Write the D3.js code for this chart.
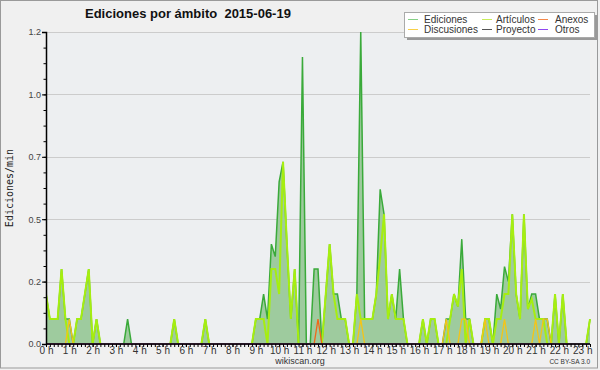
<!DOCTYPE html>
<html>
<head>
<meta charset="utf-8">
<script src="https://cdn.jsdelivr.net/npm/d3@7"></script>
<style>
  body { margin: 0; background: #f0f0f0; }
  text { font-family: "Liberation Sans", Arial, sans-serif; }
</style>
</head>
<body>
<div id="chart"></div>
<script>
// values every 10 minutes (edits per minute)
var stepMinutes = 10;

var ediciones = [
  0.2, 0.1, 0.1, 0.1, 0.3, 0.1,
  0.1, 0, 0.1, 0.1, 0.2, 0.3,
  0, 0.1, 0, 0, 0, 0,
  0, 0, 0, 0.1, 0, 0,
  0, 0, 0, 0, 0, 0,
  0, 0, 0, 0.1, 0, 0,
  0, 0, 0, 0, 0, 0.1,
  0, 0, 0, 0, 0, 0,
  0, 0, 0, 0, 0, 0,
  0.1, 0.1, 0.2, 0.1, 0.4, 0.35,
  0.65, 0.73, 0.4, 0.1, 0.3, 0,
  1.15, 0, 0, 0.3, 0.3, 0,
  0.2, 0.4, 0.2, 0.2, 0.1, 0.1,
  0, 0, 0.2, 1.25, 0.1, 0.1,
  0.1, 0.2, 0.62, 0.52, 0.1, 0.2,
  0.1, 0.3, 0.1, 0, 0, 0,
  0, 0.1, 0, 0.1, 0.1, 0,
  0, 0.1, 0.1, 0.2, 0.15, 0.42,
  0.1, 0.1, 0, 0, 0, 0.1,
  0.1, 0, 0.2, 0.14, 0.31, 0.25,
  0.52, 0.2, 0.1, 0.52, 0.14, 0.2,
  0.2, 0.1, 0.1, 0.1, 0, 0.2,
  0, 0.2, 0, 0, 0, 0,
  0, 0, 0.1
];

var articulos = [
  0.2, 0.1, 0.1, 0.1, 0.3, 0.1,
  0, 0, 0.1, 0.1, 0.2, 0.3,
  0, 0.1, 0, 0, 0, 0,
  0, 0, 0, 0, 0, 0,
  0, 0, 0, 0, 0, 0,
  0, 0, 0, 0.1, 0, 0,
  0, 0, 0, 0, 0, 0.1,
  0, 0, 0, 0, 0, 0,
  0, 0, 0, 0, 0, 0,
  0.1, 0.1, 0.1, 0, 0.3, 0.3,
  0.2, 0.73, 0.4, 0.1, 0.3, 0,
  0, 0, 0, 0, 0, 0,
  0.2, 0.4, 0.2, 0.1, 0.1, 0.1,
  0, 0, 0.2, 0.1, 0.1, 0.1,
  0.1, 0.2, 0.35, 0.52, 0.1, 0.2,
  0.1, 0.1, 0.1, 0, 0, 0,
  0, 0.1, 0, 0.1, 0.1, 0,
  0, 0, 0.1, 0.2, 0.15, 0.3,
  0, 0.1, 0, 0, 0, 0.1,
  0.1, 0, 0.1, 0.1, 0.2, 0.2,
  0.52, 0.2, 0.1, 0.52, 0.14, 0.18,
  0.1, 0.1, 0.1, 0, 0, 0.2,
  0, 0.2, 0, 0, 0, 0,
  0, 0, 0.1
];

var discusiones = [
  0, 0, 0, 0, 0, 0,
  0.1, 0, 0, 0, 0, 0,
  0, 0, 0, 0, 0, 0,
  0, 0, 0, 0, 0, 0,
  0, 0, 0, 0, 0, 0,
  0, 0, 0, 0, 0, 0,
  0, 0, 0, 0, 0, 0,
  0, 0, 0, 0, 0, 0,
  0, 0, 0, 0, 0, 0,
  0, 0, 0, 0, 0, 0,
  0, 0, 0, 0, 0, 0,
  0, 0, 0, 0, 0, 0,
  0, 0, 0, 0, 0, 0,
  0, 0, 0, 0.1, 0, 0,
  0, 0, 0, 0, 0, 0,
  0, 0, 0, 0, 0, 0,
  0, 0, 0, 0, 0, 0,
  0, 0.1, 0, 0, 0, 0.1,
  0.1, 0, 0, 0, 0, 0.1,
  0, 0, 0, 0, 0.1, 0,
  0, 0, 0, 0, 0, 0,
  0.1, 0, 0.1, 0.1, 0, 0,
  0, 0, 0, 0, 0, 0,
  0, 0, 0
];

var anexos = [
  0, 0, 0, 0, 0, 0,   0, 0, 0, 0, 0, 0,   0, 0, 0, 0, 0, 0,
  0, 0, 0, 0, 0, 0,   0, 0, 0, 0, 0, 0,   0, 0, 0, 0, 0, 0,
  0, 0, 0, 0, 0, 0,   0, 0, 0, 0, 0, 0,   0, 0, 0, 0, 0, 0,
  0, 0, 0, 0, 0, 0,   0, 0, 0, 0, 0, 0,   0, 0, 0, 0, 0.1, 0,
  0, 0, 0, 0, 0, 0,   0, 0, 0, 0, 0, 0,   0, 0, 0, 0, 0, 0,
  0, 0, 0, 0, 0, 0,   0, 0, 0, 0, 0, 0,   0, 0, 0, 0, 0, 0,
  0, 0, 0, 0, 0, 0,   0, 0, 0, 0, 0, 0,   0, 0, 0, 0, 0, 0,
  0, 0, 0, 0, 0, 0,   0, 0, 0
];

var proyecto = ediciones.map(function() { return 0; });
var otros = ediciones.map(function() { return 0; });

var hours = d3.range(0, 24);
var yTicks = [0, 0.25, 0.5, 0.75, 1.0, 1.25];
var yTickLabels = ["0.0", "0.2", "0.5", "0.7", "1.0", "1.2"];

var legendNames = ["Ediciones", "Artículos", "Anexos", "Discusiones", "Proyecto", "Otros"];
var legendColors = ["#86d086", "#c8ec5a", "#f4884a", "#f8d048", "#555555", "#9048f0"];

var W = 600, H = 370;
var svg = d3.select("#chart").append("svg")
  .attr("width", W).attr("height", H);

svg.append("rect").attr("x", 0.5).attr("y", 0.5)
  .attr("width", 597).attr("height", 367.5)
  .attr("fill", "#f0f0f0").attr("stroke", "#9a9a9a");

var x = d3.scaleLinear().domain([0, 140 * stepMinutes / 60]).range([46, 590]);
var y = d3.scaleLinear().domain([0, 1.25]).range([344, 32]);

// plot background
svg.append("rect")
  .attr("x", x.range()[0]).attr("y", y.range()[1])
  .attr("width", x.range()[1] - x.range()[0])
  .attr("height", y.range()[0] - y.range()[1])
  .attr("fill", "#edeff1");

// grid
svg.selectAll(".grid").data(yTicks.slice(1)).enter()
  .append("line")
  .attr("x1", x.range()[0]).attr("x2", x.range()[1])
  .attr("y1", function(d) { return Math.round(y(d)) + 0.5; })
  .attr("y2", function(d) { return Math.round(y(d)) + 0.5; })
  .attr("stroke", "#cccccc");

svg.append("clipPath").attr("id", "clip")
  .append("rect")
  .attr("x", 46).attr("y", 31).attr("width", 545).attr("height", 314);

var plot = svg.append("g").attr("clip-path", "url(#clip)");

var tx = function(d, i) { return x(i * stepMinutes / 60); };

var area = d3.area().x(tx).y0(y(0)).y1(function(d) { return y(d); });
var line = d3.line().x(tx).y(function(d) { return y(d); });

plot.append("path").datum(ediciones)
  .attr("d", area)
  .attr("fill", "#9ecb9e");

plot.append("path").datum(ediciones)
  .attr("d", line).attr("fill", "none")
  .attr("stroke", "#3aaa3a").attr("stroke-width", 1.5);

plot.append("path").datum(articulos)
  .attr("d", line).attr("fill", "none")
  .attr("stroke", "#a6ee10").attr("stroke-width", 2);

plot.append("path").datum(discusiones)
  .attr("d", line).attr("fill", "none")
  .attr("stroke", "#f4c418").attr("stroke-width", 1.3);

plot.append("path").datum(anexos)
  .attr("d", line).attr("fill", "none")
  .attr("stroke", "#f06818").attr("stroke-width", 1.3);

plot.append("path").datum(proyecto)
  .attr("d", line).attr("fill", "none")
  .attr("stroke", "#555").attr("stroke-width", 1);

plot.append("path").datum(otros)
  .attr("d", line).attr("fill", "none")
  .attr("stroke", "#9048f0").attr("stroke-width", 1);

// y axis
var yMinor = d3.range(0, 1.25 + 0.001, 0.0625);
svg.append("g").attr("transform", "translate(46,0)")
  .call(d3.axisLeft(y).tickValues(yMinor).tickSize(2.5).tickFormat(""))
  .call(function(g) { g.select(".domain").remove(); });

var yAxis = svg.append("g").attr("transform", "translate(46,0)")
  .call(d3.axisLeft(y).tickValues(yTicks).tickSize(4).tickPadding(1)
    .tickFormat(function(d, i) { return yTickLabels[i]; }));
yAxis.select(".domain").attr("stroke", "#000").attr("stroke-width", 1.5);
yAxis.selectAll("text").attr("font-size", 9).attr("fill", "#444")
  .attr("font-family", "Liberation Sans, Arial, sans-serif");

// x axis
var xMinor = d3.range(0, 141).map(function(i) { return i * stepMinutes / 60; });
svg.append("g").attr("transform", "translate(0,344)")
  .call(d3.axisBottom(x).tickValues(xMinor).tickSize(3).tickFormat(""))
  .call(function(g) { g.select(".domain").remove(); });

var xAxis = svg.append("g").attr("transform", "translate(0,344)")
  .call(d3.axisBottom(x).tickValues(hours).tickSize(3).tickPadding(0)
    .tickFormat(function(d) { return d + " h"; }));
xAxis.select(".domain").attr("stroke", "#000").attr("stroke-width", 1.5)
  .attr("d", "M46,0H590");
xAxis.selectAll("text").attr("font-size", 10).attr("fill", "#333")
  .attr("font-family", "Liberation Sans, Arial, sans-serif");

// title
svg.append("text").attr("x", 85).attr("y", 18)
  .attr("font-size", 13).attr("font-weight", "bold").attr("fill", "#111")
  .style("white-space", "pre")
  .text("Ediciones por ámbito  2015-06-19");

// y label
svg.append("text")
  .attr("transform", "translate(13,188) rotate(-90)")
  .attr("text-anchor", "middle")
  .attr("font-size", 10).attr("fill", "#222")
  .style("font-family", "DejaVu Sans Mono, monospace")
  .text("Ediciones/min");

// footer
svg.append("text").attr("x", 300).attr("y", 364)
  .attr("text-anchor", "middle").attr("font-size", 9).attr("fill", "#333")
  .text("wikiscan.org");
svg.append("text").attr("x", 590).attr("y", 364)
  .attr("text-anchor", "end").attr("font-size", 6.5).attr("fill", "#333")
  .text("CC BY-SA 3.0");

// legend
var lg = svg.append("g");
lg.append("rect").attr("x", 407).attr("y", 15).attr("width", 190).attr("height", 25)
  .attr("fill", "#999");
lg.append("rect").attr("x", 404.5).attr("y", 12.5).attr("width", 190).attr("height", 25)
  .attr("fill", "#fff").attr("stroke", "#aaa");

var colX = [408, 482, 538];
var textX = [424, 496, 555];
var rowY = [19.5, 29.5];
legendNames.forEach(function(name, i) {
  var c = i % 3, r = Math.floor(i / 3);
  lg.append("line")
    .attr("x1", colX[c]).attr("x2", colX[c] + 10)
    .attr("y1", rowY[r]).attr("y2", rowY[r])
    .attr("stroke", legendColors[i]).attr("stroke-width", 1);
  lg.append("text").attr("x", textX[c]).attr("y", rowY[r] + 3.5)
    .attr("font-size", 10).attr("fill", "#333")
    .text(name);
});
</script>
</body>
</html>
